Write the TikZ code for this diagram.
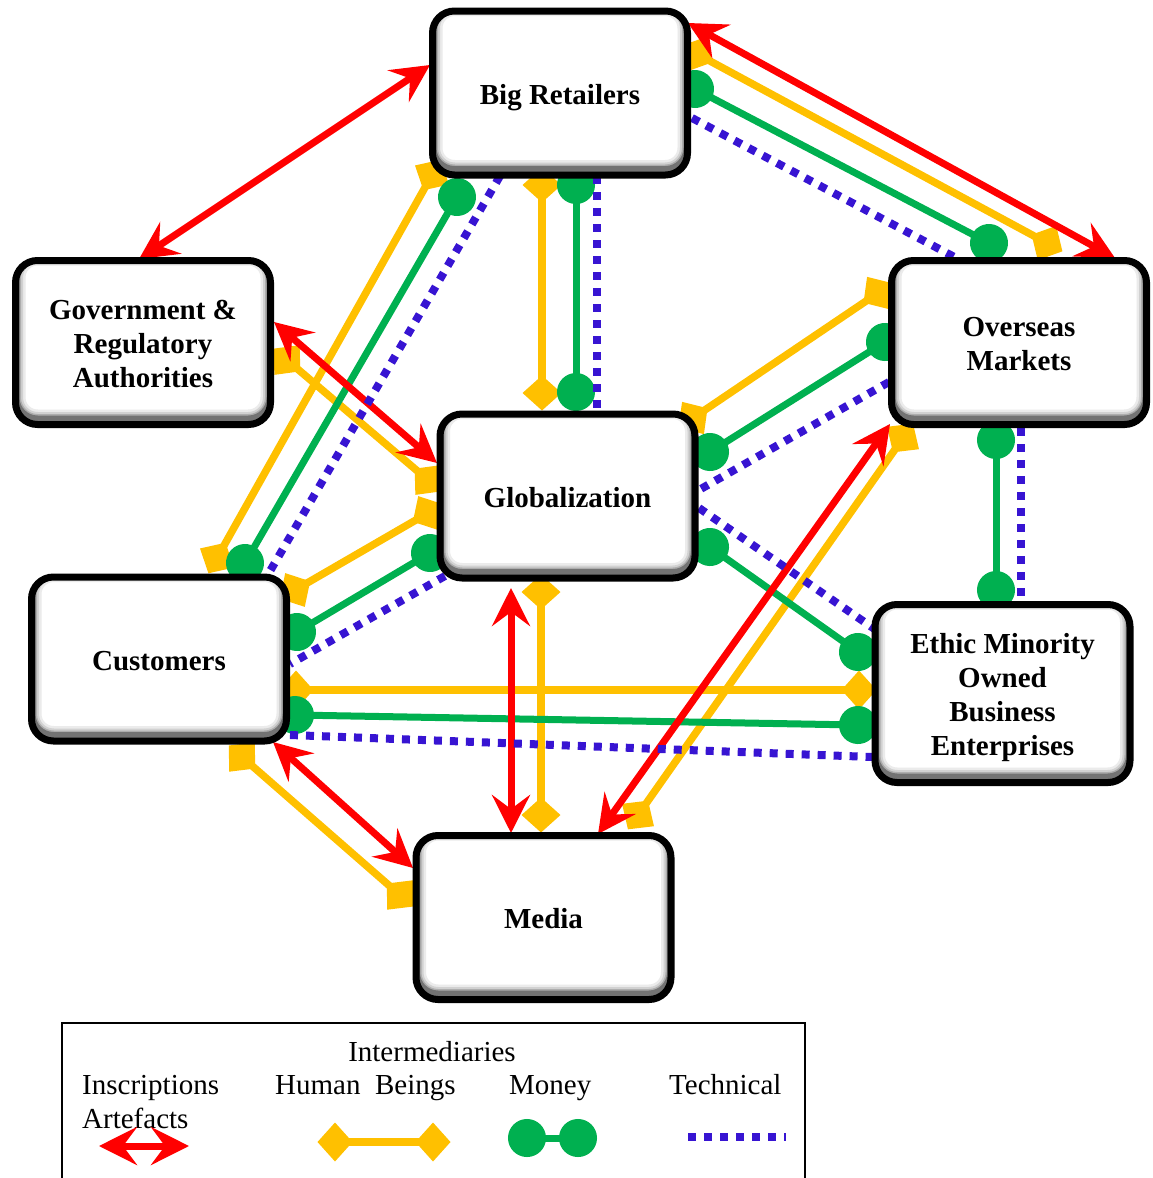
\documentclass[tikz,border=0pt]{standalone}
\usepackage{fontspec}
\setmainfont{Liberation Serif}
\usetikzlibrary{arrows.meta,backgrounds}

\definecolor{inscr}{RGB}{255,0,0}
\definecolor{human}{RGB}{255,192,0}
\definecolor{money}{RGB}{0,176,80}
\definecolor{techn}{RGB}{55,20,210}

\tikzset{
  inscrtip/.tip={Stealth[length=38pt,width=38pt,inset=14pt]},
  humantip/.tip={Diamond[length=35pt,width=39pt]},
  moneytip/.tip={Circle[length=38pt]},
  actor/.style={
    draw=black, line width=7pt, fill=white, rounded corners=22pt,
    minimum width=255pt, minimum height=164pt, inner sep=0pt,
    align=center, font=\fontsize{29}{34}\selectfont\bfseries,
    % fixed text box so that the capitals sit in the middle of the box
    text height=22pt, text depth=0pt,
    % soft inner shadow, heavier along the lower edge
    path picture={
      \foreach \w/\c in {20/8,15/18,11/32,8/55}{
        \draw[line width=\w pt, black!\c, rounded corners=22pt]
          ([yshift=5pt]path picture bounding box.south west)
          rectangle ([yshift=5pt]path picture bounding box.north east);
      }
    }},
  inscription/.style={draw=inscr, line width=7pt, inscrtip-inscrtip},
  humanlink/.style={draw=human, line width=7.5pt, humantip-humantip,
    shorten <=-17.5pt, shorten >=-17.5pt},
  moneylink/.style={draw=money, line width=7pt, moneytip-moneytip,
    shorten <=-19pt, shorten >=-19pt},
  techlink/.style={draw=techn, line width=8pt, dash pattern=on 8pt off 8pt},
  legendtext/.style={inner sep=0pt, font=\fontsize{29}{34}\selectfont},
}

\begin{document}
\begin{tikzpicture}[x=1pt,y=-1pt]
\useasboundingbox (0,0) rectangle (1152,1178);

% actors of the network
\node[actor] (br)   at (560,93)      {Big Retailers};
\node[actor, text height=90pt] (gov)  at (143,342.5)   {Government \&\\Regulatory\\Authorities};
\node[actor, text height=56pt] (om)   at (1019,342.5)  {Overseas\\Markets};
\node[actor] (glob) at (567.5,496)   {Globalization};
\node[actor] (cust) at (159,659)     {Customers};
\node[actor, text height=124pt, minimum height=178pt] (eth) at (1002.5,693.5)
      {Ethic Minority\\Owned\\Business\\Enterprises};
\node[actor] (med)  at (543.5,917.5) {Media};

\begin{scope}[on background layer]
  % human beings
  \draw[humanlink] ([shift={(-18,92)}]br.center)    -- ([shift={(-25.5,-103)}]glob.center);
  \draw[humanlink] ([shift={(137,-39)}]br.center)   -- ([shift={(28,-99.5)}]om.center);
  \draw[humanlink] ([shift={(-128,82)}]br.center)   -- ([shift={(58,-101)}]cust.center);
  \draw[humanlink] ([shift={(144,17.5)}]gov.center) -- ([shift={(-139.5,-16)}]glob.center);
  \draw[humanlink] ([shift={(-139.5,17)}]glob.center) -- ([shift={(136,-69)}]cust.center);
  \draw[humanlink] ([shift={(-141,-49.5)}]om.center) -- ([shift={(125.5,-78)}]glob.center);
  \draw[humanlink] ([shift={(-26.5,96)}]glob.center) -- ([shift={(-2.5,-102.5)}]med.center);
  \draw[humanlink] ([shift={(137,31)}]cust.center)  -- ([shift={(-143.5,-3.5)}]eth.center);
  \draw[humanlink] ([shift={(83,98)}]cust.center)   -- ([shift={(-143.5,-22.5)}]med.center);
  \draw[humanlink] ([shift={(-116,95.5)}]om.center) -- ([shift={(94.5,-102.5)}]med.center);
  % money
  \draw[moneylink] ([shift={(16,92)}]br.center)     -- ([shift={(8.5,-104)}]glob.center);
  \draw[moneylink] ([shift={(135,-4)}]br.center)    -- ([shift={(-30,-99.5)}]om.center);
  \draw[moneylink] ([shift={(-103,104)}]br.center)  -- ([shift={(86,-96)}]cust.center);
  \draw[moneylink] ([shift={(-134,-0.5)}]om.center) -- ([shift={(142.5,-44)}]glob.center);
  \draw[moneylink] ([shift={(-137.5,57)}]glob.center) -- ([shift={(138,-27)}]cust.center);
  \draw[moneylink] ([shift={(142.5,51)}]glob.center) -- ([shift={(-144.5,-41.5)}]eth.center);
  \draw[moneylink] ([shift={(136,56)}]cust.center)  -- ([shift={(-144.5,31.5)}]eth.center);
  \draw[moneylink] ([shift={(-23,97.5)}]om.center)  -- ([shift={(-6.5,-103.5)}]eth.center);
  % inscriptions and artefacts
  \draw[inscription] ([shift={(-130,-28)}]br.center) -- ([shift={(-4,-83.5)}]gov.center);
  \draw[inscription] ([shift={(128,-70)}]br.center)  -- ([shift={(96,-84.5)}]om.center);
  \draw[inscription] ([shift={(131,-20.5)}]gov.center) -- ([shift={(-130.5,-33)}]glob.center);
  \draw[inscription] ([shift={(-56.5,92)}]glob.center) -- ([shift={(-32.5,-84.5)}]med.center);
  \draw[inscription] ([shift={(114,83)}]cust.center) -- ([shift={(-130.5,-49.5)}]med.center);
  \draw[inscription] ([shift={(-129,81.5)}]om.center) -- ([shift={(54.5,-83.5)}]med.center);
  % technical
  \draw[techlink] ([shift={(37,83)}]br.center)     -- ([shift={(29.5,-86)}]glob.center);
  \draw[techlink] ([shift={(132,25)}]br.center)    -- ([shift={(-59,-82.5)}]om.center);
  \draw[techlink] ([shift={(-60,83)}]br.center)    -- ([shift={(107,-81)}]cust.center);
  \draw[techlink] ([shift={(-130,39.5)}]om.center) -- ([shift={(131.5,-6)}]glob.center);
  \draw[techlink] ([shift={(-122.5,80)}]glob.center) -- ([shift={(131,5)}]cust.center);
  \draw[techlink] ([shift={(131.5,12)}]glob.center) -- ([shift={(-126.5,-63.5)}]eth.center);
  \draw[techlink] ([shift={(131,76)}]cust.center)  -- ([shift={(-130.5,63.5)}]eth.center);
  \draw[techlink] ([shift={(2,85.5)}]om.center)    -- ([shift={(18.5,-92.5)}]eth.center);
\end{scope}

% legend
\draw[line width=2pt] (62,1190) -- (62,1023) -- (805,1023) -- (805,1190);
\node[legendtext, anchor=base]      (lgtitle) at (432,1061) {Intermediaries};
\node[legendtext, anchor=base west] (lgins)   at (82,1094)  {Inscriptions};
\node[legendtext, anchor=base west] (lgart)   at (82,1128)  {Artefacts};
\node[legendtext, anchor=base west] (lghum)   at (275,1094) {Human\ \ Beings};
\node[legendtext, anchor=base west] (lgmon)   at (509,1094) {Money};
\node[legendtext, anchor=base west] (lgtec)   at (669,1094) {Technical};

\coordinate (ia) at (99,1146);  \coordinate (ib) at (189,1146);
\coordinate (ha) at (335,1142); \coordinate (hb) at (433,1142);
\coordinate (ma) at (527,1138); \coordinate (mb) at (578,1138);
\coordinate (ta) at (688,1137); \coordinate (tb) at (786,1137);
\draw[inscription] (ia) -- (ib);
\draw[humanlink]   (ha) -- (hb);
\draw[moneylink]   (ma) -- (mb);
\draw[techlink]    (ta) -- (tb);
\end{tikzpicture}
\end{document}
